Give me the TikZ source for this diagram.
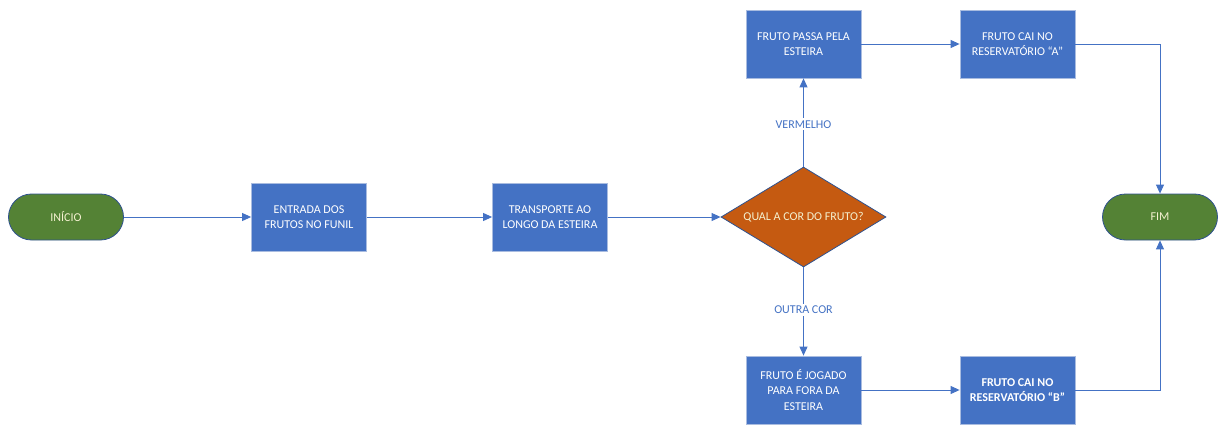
\documentclass[tikz,border=0pt]{standalone}
\usepackage{fontspec}
\setmainfont{Carlito}
\usetikzlibrary{shapes.geometric,arrows.meta}
\definecolor{boxblue}{HTML}{4472C4}
\definecolor{boxedge}{HTML}{A9BCE0}
\definecolor{darkedge}{HTML}{2F528F}
\definecolor{termgreen}{HTML}{548235}
\definecolor{decor}{HTML}{C55A11}
\definecolor{paletext}{HTML}{F4F1D0}
\tikzset{
  procbox/.style={rectangle, fill=boxblue, draw=boxedge, line width=0.8pt,
    minimum width=115, minimum height=68, inner sep=2pt, text=white,
    align=center, font=\fontsize{12}{15.7}\selectfont},
  termbox/.style={rectangle, rounded corners=23, fill=termgreen, draw=darkedge,
    line width=0.8pt, minimum width=115, minimum height=46, text=paletext,
    font=\fontsize{12}{15.7}\selectfont},
  decision/.style={diamond, aspect=1.65, fill=decor, draw=darkedge, line width=0.8pt,
    minimum width=165, minimum height=100, inner sep=0pt, text=paletext,
    font=\fontsize{12}{15.7}\selectfont},
  flow/.style={draw=boxblue, line width=0.9pt, -{Triangle[length=9pt,width=8pt]}},
  flowlabel/.style={fill=white, text=boxblue, inner sep=2pt,
    font=\fontsize{12}{13}\selectfont}
}
\begin{document}
\begin{tikzpicture}[x=1pt,y=-1pt]
\useasboundingbox (0,0) rectangle (1218,425);
\node[termbox] (inicio) at (66,217) {INÍCIO};
\node[procbox] (entrada) at (309,217) {ENTRADA DOS\\FRUTOS NO FUNIL};
\node[procbox] (transp) at (550,217) {TRANSPORTE AO\\LONGO DA ESTEIRA};
\node[decision] (qual) at (803.5,217) {QUAL A COR DO FRUTO?};
\node[procbox] (passa) at (803.5,44) {FRUTO PASSA PELA\\ESTEIRA};
\node[procbox] (caiA) at (1017.5,44) {FRUTO CAI NO\\RESERVATÓRIO “A”};
\node[procbox] (jogado) at (803.5,390) {FRUTO É JOGADO\\PARA FORA DA\\ESTEIRA};
\node[procbox] (caiB) at (1017.5,390) {\textbf{FRUTO CAI NO}\\\textbf{RESERVATÓRIO “B”}};
\node[termbox] (fim) at (1160,217) {FIM};

\draw[flow] (inicio) -- (entrada);
\draw[flow] (entrada) -- (transp);
\draw[flow] (transp) -- (qual);
\draw[flow] (qual) -- node[flowlabel, pos=0.48] {VERMELHO} (passa);
\draw[flow] (qual) -- node[flowlabel, pos=0.48] {OUTRA COR} (jogado);
\draw[flow] (passa) -- (caiA);
\draw[flow] (jogado) -- (caiB);
\draw[flow] (caiA.east) -| (fim.north);
\draw[flow] (caiB.east) -| (fim.south);
\end{tikzpicture}
\end{document}
